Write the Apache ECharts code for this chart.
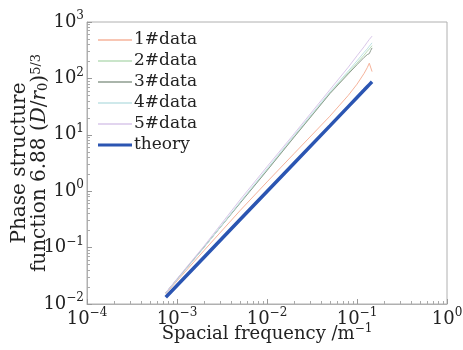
<!DOCTYPE html>
<html>
<head>
<meta charset="utf-8">
<script src="https://cdn.jsdelivr.net/npm/echarts@6/dist/echarts.min.js"></script>
<style>
html, body { margin: 0; padding: 0; background: #fff; }
#chart { width: 463px; height: 350px; }
</style>
</head>
<body>
<div id="chart"></div>
<script>
// spatial frequency samples (1/m)
var freq = [7.5e-4, 1e-3, 2e-3, 5e-3, 1e-2, 2e-2, 5e-2, 0.08, 0.1, 0.12, 0.13, 0.137, 0.142, 0.147];

var data1 = [0.0151, 0.0257, 0.089, 0.45, 1.46, 4.65, 21.4, 50, 79, 123, 155, 186, 176, 132];
var data2 = [0.0158, 0.0274, 0.102, 0.621, 2.37, 9.27, 55, 126, 187, 259, 303, 331, 359, 380];
var data3 = [0.0158, 0.0274, 0.102, 0.607, 2.32, 9.06, 53.7, 120, 175, 236, 264, 275, 313, 347];
var data4 = [0.0155, 0.0268, 0.1, 0.635, 2.48, 9.7, 57.5, 135, 205, 290, 333, 372, 403, 427];
var data5 = [0.0158, 0.028, 0.107, 0.697, 2.72, 10.4, 63, 158, 252, 366, 438, 490, 531, 562];
var theory = [0.0132, 0.0213, 0.0676, 0.311, 0.99, 3.14, 14.4, 31.6, 45.9, 62.1, 71.1, 77.6, 82.2, 87];

var names = ['1#data', '2#data', '3#data', '4#data', '5#data', 'theory'];
var colors = ['#f6b39b', '#b9ddb9', '#8e9c8f', '#bfe2e4', '#d9c7ea', '#2b55b2'];
var values = [data1, data2, data3, data4, data5, theory];

function pairs(ys) {
    return freq.map(function (x, i) { return [x, ys[i]]; });
}

var serif = 'DejaVu Serif';
var rich = {
    b: { fontFamily: serif, fontSize: 18, color: '#222', lineHeight: 24 },
    s: { fontFamily: serif, fontSize: 12, color: '#222', lineHeight: 12, verticalAlign: 'top' }
};

function powLabel(v) {
    var e = Math.round(Math.log10(v));
    var t = e < 0 ? '\u2212' + (-e) : '' + e;
    return '{b|10}{s|' + t + '}';
}

var chart = echarts.init(document.getElementById('chart'));

var series = names.map(function (n, i) {
    return {
        name: n,
        type: 'line',
        symbol: 'none',
        data: pairs(values[i]),
        z: i == 5 ? 10 : 2 + i,
        lineStyle: { color: colors[i], width: i == 5 ? 3.5 : 1 },
        itemStyle: { color: colors[i] }
    };
});

var legendData = names.map(function (n, i) {
    return {
        name: n,
        icon: i == 5 ? 'path://M0,0 L34,0 L34,3 L0,3 Z' : 'path://M0,0 L34,0 L34,1.4 L0,1.4 Z',
        itemStyle: { color: colors[i], borderColor: colors[i], borderWidth: 0 }
    };
});

chart.setOption({
    animation: false,
    backgroundColor: '#fff',
    grid: {
        left: 87, right: 16, top: 22, bottom: 46,
        outerBoundsMode: 'none',
        containLabel: false,
        show: true, borderColor: '#b0b0b0', borderWidth: 1
    },
    legend: {
        orient: 'vertical',
        left: 98,
        top: 30,
        itemWidth: 34,
        itemHeight: 14,
        itemGap: 1,
        padding: [0, 0, 0, 0],
        textStyle: { fontFamily: serif, fontSize: 17, color: '#222', lineHeight: 20, padding: [0, 0, 0, -3] },
        data: legendData
    },
    xAxis: {
        type: 'log',
        min: 1e-4,
        max: 1,
        logBase: 10,
        name: 'Spacial frequency /m{s|\u22121}',
        nameLocation: 'middle',
        nameGap: 19,
        nameMoveOverlap: false,
        nameTextStyle: {
            rich: {
                s: { fontFamily: serif, fontSize: 12, color: '#222', lineHeight: 12, verticalAlign: 'top' }
            },
            fontFamily: serif, fontSize: 18, color: '#222', lineHeight: 22
        },
        axisLine: { lineStyle: { color: '#b0b0b0' } },
        axisTick: { inside: true, length: 5, lineStyle: { color: '#999' } },
        minorTick: { show: true, splitNumber: 9, length: 3, lineStyle: { color: '#aaa' } },
        splitLine: { show: false },
        axisLabel: {
            margin: 3, formatter: powLabel, rich: rich,
            alignMinLabel: 'center', alignMaxLabel: 'center', hideOverlap: false
        }
    },
    yAxis: {
        type: 'log',
        min: 1e-2,
        max: 1e3,
        logBase: 10,
        name: 'Phase structure\nfunction 6.88 ({i|D}/{i|r}{sub|0}){s|5/3}',
        nameLocation: 'middle',
        nameRotate: 90,
        nameGap: 37,
        nameMoveOverlap: false,
        nameTextStyle: {
            fontFamily: serif, fontSize: 20, color: '#222', lineHeight: 20,
            rich: {
                i: { fontFamily: serif, fontSize: 20, fontStyle: 'italic', color: '#222', lineHeight: 20 },
                sub: { fontFamily: serif, fontSize: 13, color: '#222', lineHeight: 13, verticalAlign: 'bottom' },
                s: { fontFamily: serif, fontSize: 13, color: '#222', lineHeight: 13, verticalAlign: 'top' }
            }
        },
        axisLine: { show: true, lineStyle: { color: '#b0b0b0' } },
        axisTick: { show: true, inside: true, length: 5, lineStyle: { color: '#999' } },
        minorTick: { show: true, splitNumber: 9, length: 3, lineStyle: { color: '#aaa' } },
        splitLine: { show: false },
        axisLabel: {
            margin: 3, formatter: powLabel, rich: rich,
            verticalAlignMinLabel: 'middle', verticalAlignMaxLabel: 'middle', hideOverlap: false
        }
    },
    series: series
});
</script>
</body>
</html>
